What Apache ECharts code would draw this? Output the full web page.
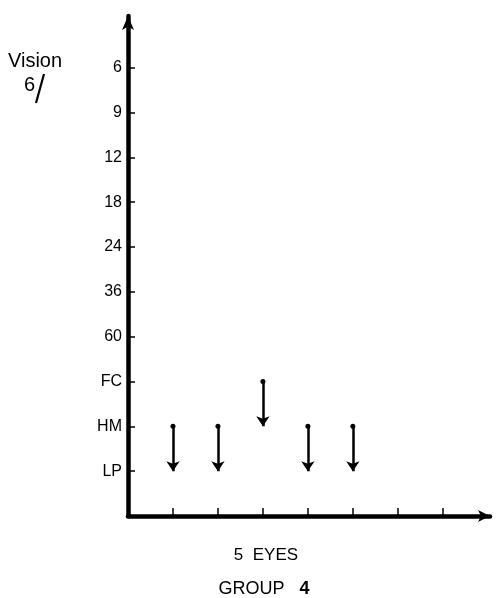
<!DOCTYPE html>
<html>
<head>
<meta charset="utf-8">
<script src="https://cdn.jsdelivr.net/npm/echarts@6/dist/echarts.min.js"></script>
<style>
    html, body { margin: 0; padding: 0; background: #fff; }
    #chart { width: 496px; height: 598px; }
</style>
</head>
<body>
<div id="chart"></div>
<script>
// vision scale, bottom to top (position 1 = LP ... 10 = 6/6)
const visionLabels = ['LP', 'HM', 'FC', '60', '36', '24', '18', '12', '9', '6'];
const eyes = [1, 2, 3, 4, 5];
const visionBefore = ['HM', 'HM', 'FC', 'HM', 'HM'];
const visionAfter = ['LP', 'LP', 'HM', 'LP', 'LP'];
const xTicks = [1, 2, 3, 4, 5, 6, 7];

const chart = echarts.init(document.getElementById('chart'));
const font = '"Liberation Sans", Arial, sans-serif';
const level = lab => visionLabels.indexOf(lab) + 1;

const arrows = eyes.map((e, i) => ({
    coords: [[e, level(visionBefore[i])], [e, level(visionAfter[i])]]
}));

chart.setOption({
    backgroundColor: '#fff',
    animation: false,
    grid: { left: 128, right: 6, top: 16, bottom: 82, containLabel: false },
    xAxis: {
        type: 'value',
        min: 0,
        max: 8.05,
        axisLine: {
            show: true,
            lineStyle: { color: '#000', width: 4.5 },
            symbol: ['none', 'arrow'],
            symbolSize: [9, 12]
        },
        axisTick: {
            show: true,
            inside: true,
            length: 8,
            customValues: xTicks,
            lineStyle: { color: '#000', width: 1.5 }
        },
        axisLabel: { show: false },
        splitLine: { show: false }
    },
    yAxis: {
        type: 'value',
        min: 0,
        max: 11.15,
        axisLine: {
            show: true,
            lineStyle: { color: '#000', width: 4.5 },
            symbol: ['none', 'arrow'],
            symbolSize: [9, 14]
        },
        axisTick: {
            show: true,
            inside: true,
            length: 7,
            customValues: visionLabels.map((_, i) => i + 1),
            lineStyle: { color: '#000', width: 1.5 }
        },
        axisLabel: {
            customValues: visionLabels.map((_, i) => i + 1),
            formatter: v => visionLabels[v - 1] || '',
            color: '#000',
            fontFamily: font,
            fontSize: 16,
            margin: 6
        },
        splitLine: { show: false }
    },
    series: [{
        type: 'lines',
        coordinateSystem: 'cartesian2d',
        data: arrows,
        symbol: ['circle', 'arrow'],
        symbolSize: [5, 10],
        lineStyle: { color: '#000', width: 2.5, opacity: 1 }
    }],
    graphic: [
        {
            type: 'text', left: 8, top: 51,
            style: { text: 'Vision', font: '20px ' + font, fill: '#000' }
        },
        {
            type: 'text', left: 24, top: 75,
            style: { text: '6', font: '20px ' + font, fill: '#000' }
        },
        {
            type: 'line',
            shape: { x1: 44, y1: 74, x2: 36, y2: 103 },
            style: { stroke: '#000', lineWidth: 2.2 }
        },
        {
            type: 'text', x: 266, y: 555,
            style: {
                text: '5  EYES', font: '17px ' + font, fill: '#000',
                align: 'center', verticalAlign: 'middle'
            }
        },
        {
            type: 'text', x: 264, y: 589,
            style: {
                text: 'GROUP   {b|4}', font: '18px ' + font, fill: '#000',
                align: 'center', verticalAlign: 'middle',
                rich: { b: { font: 'bold 18px ' + font, fill: '#000' } }
            }
        }
    ]
});
</script>
</body>
</html>
